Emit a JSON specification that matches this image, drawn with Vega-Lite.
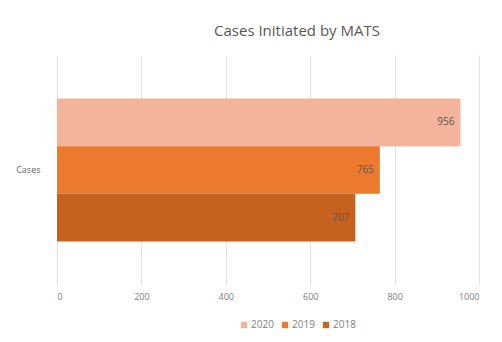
{
  "$schema": "https://vega.github.io/schema/vega-lite/v6.json",
  "autosize": "none",
  "width": 422,
  "height": 230,
  "padding": {"left": 57, "top": 55, "right": 23, "bottom": 57},
  "background": "#ffffff",
  "config": {"view": {"stroke": null}},
  "title": {
    "text": "Cases Initiated by MATS",
    "font": "Open Sans",
    "fontSize": 15,
    "fontWeight": "normal",
    "color": "#595959",
    "offset": 16,
    "dx": 29
  },
  "data": {
    "values": [
      {"category": "Cases", "year": "2020", "value": 956},
      {"category": "Cases", "year": "2019", "value": 765},
      {"category": "Cases", "year": "2018", "value": 707}
    ]
  },
  "encoding": {
    "y": {
      "field": "category",
      "type": "nominal",
      "title": null,
      "scale": {"paddingInner": 0, "paddingOuter": 0.304},
      "axis": {
        "domain": false,
        "ticks": false,
        "labelPadding": 17,
        "labelFont": "Open Sans",
        "labelFontSize": 9,
        "labelColor": "#666666"
      }
    },
    "yOffset": {
      "field": "year",
      "type": "nominal",
      "sort": ["2020", "2019", "2018"],
      "scale": {"paddingInner": 0, "paddingOuter": 0}
    },
    "x": {
      "field": "value",
      "type": "quantitative",
      "title": null,
      "scale": {"domain": [0, 1000], "nice": false},
      "axis": {
        "values": [0, 200, 400, 600, 800, 1000],
        "format": "d",
        "domain": false,
        "ticks": false,
        "grid": true,
        "gridColor": "#e3e3e3",
        "labelPadding": 7,
        "labelFont": "Open Sans",
        "labelFontSize": 9,
        "labelColor": "#808080"
      }
    }
  },
  "layer": [
    {
      "mark": {"type": "bar"},
      "encoding": {
        "color": {
          "field": "year",
          "type": "nominal",
          "sort": ["2020", "2019", "2018"],
          "scale": {"domain": ["2020", "2019", "2018"], "range": ["#F4B39A", "#EC7A2E", "#C7611F"]},
          "legend": {
            "title": null,
            "orient": "none",
            "direction": "horizontal",
            "legendX": 182,
            "legendY": 265,
            "symbolType": "square",
            "symbolSize": 40,
            "columnPadding": 6,
            "labelOffset": 2,
            "labelFont": "Open Sans",
            "labelFontSize": 10,
            "labelColor": "#808080"
          }
        }
      }
    },
    {
      "mark": {"type": "text", "align": "right", "dx": -6, "font": "Open Sans", "fontSize": 10, "color": "#595959"},
      "encoding": {
        "text": {"field": "value", "type": "quantitative"}
      }
    }
  ]
}
